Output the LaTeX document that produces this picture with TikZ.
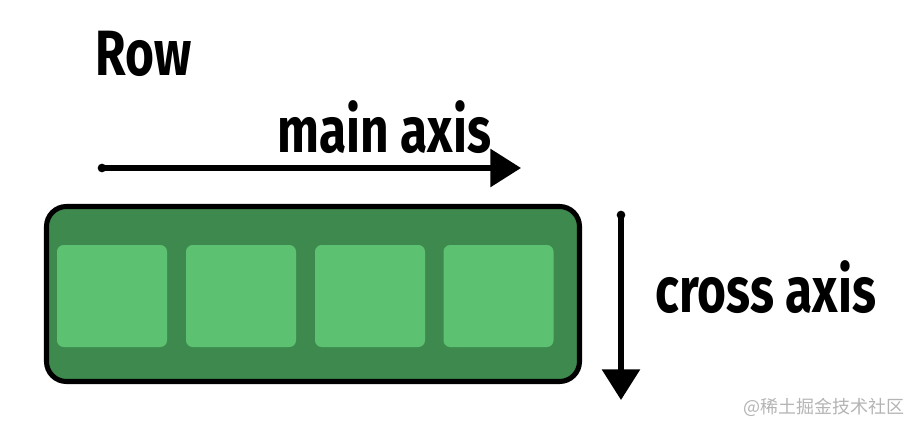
\documentclass[tikz,border=0pt]{standalone}
\usepackage{fontspec}
\usetikzlibrary{arrows.meta}
\newfontfamily\handfont[FakeStretch=0.775]{Fira Sans}
\newfontfamily\cjkwm{Noto Sans CJK SC}
\definecolor{contgreen}{HTML}{3E8A4E}
\definecolor{itemgreen}{HTML}{5CC271}
\definecolor{wmgray}{HTML}{B4B4B4}
\tikzset{
  container/.style={draw=black, line width=3.8pt, fill=contgreen, rounded corners=15pt, inner sep=0pt, minimum width=533*0.75pt, minimum height=175*0.75pt},
  itembox/.style={fill=itemgreen, rounded corners=5pt, inner sep=0pt, minimum width=110*0.75pt, minimum height=102*0.75pt},
  handtext/.style={font=\handfont\bfseries\fontsize{48}{50}\selectfont, inner sep=0pt, anchor=base west},
  axisarrow/.style={line width=3.8pt, line cap=round, -{Triangle[length=23pt,width=28pt]}},
  startdot/.style={fill=black, circle, inner sep=0pt, minimum size=6.5pt},
}
\begin{document}
\begin{tikzpicture}[x=0.75pt,y=-0.75pt]
\useasboundingbox (0,0) rectangle (918,432);
\node[container] (cont) at (313,294) {};
\node[itembox] (b1) at (112,296) {};
\node[itembox] (b2) at (241,296) {};
\node[itembox] (b3) at (370,296) {};
\node[itembox] (b4) at (498.5,296) {};
\node[handtext] (row) at (95,75) {Row};
\node[handtext] (main) at (277,152) {main axis};
\node[handtext] (cross) at (655,312) {cross axis};
\coordinate (hs) at (102,168);
\coordinate (he) at (521,168);
\coordinate (vs) at (621,215);
\coordinate (ve) at (621,400);
\node[startdot] (hdot) at (hs) {};
\node[startdot] (vdot) at (vs) {};
\draw[axisarrow] (hs) -- (he);
\draw[axisarrow] (vs) -- (ve);
\node[anchor=west, inner sep=0pt, text=wmgray, font=\cjkwm\fontsize{13.5}{14}\selectfont] (wm) at (743,407) {@稀土掘金技术社区};
\end{tikzpicture}
\end{document}
